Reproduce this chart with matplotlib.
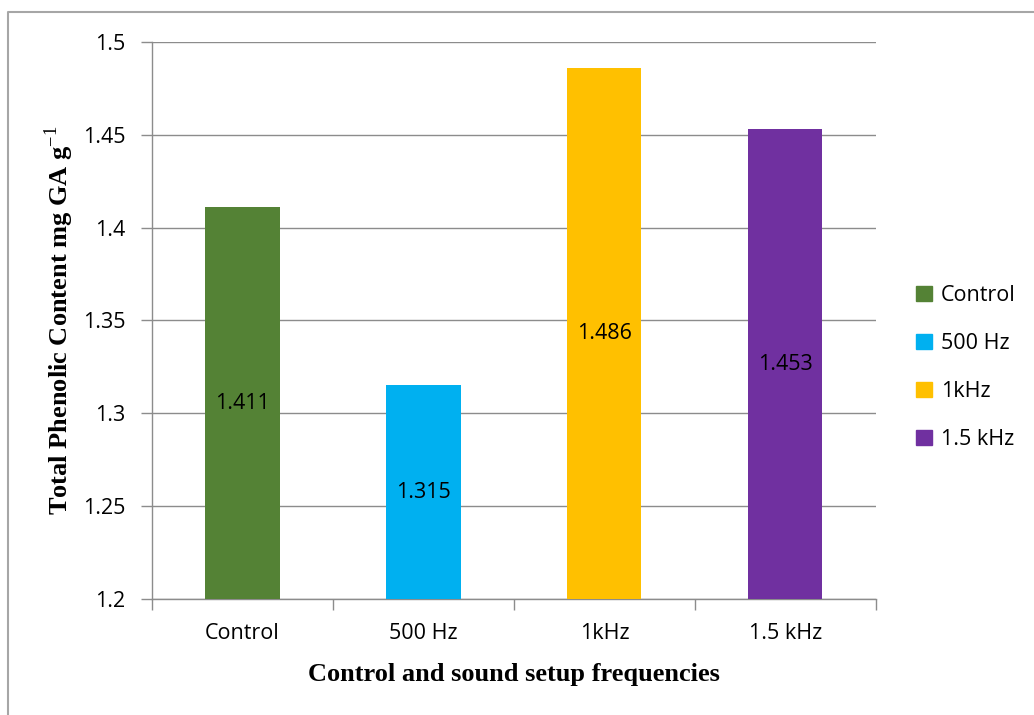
import matplotlib.pyplot as plt
from matplotlib.lines import Line2D

categories = ['Control', '500 Hz', '1kHz', '1.5 kHz']
values = [1.411, 1.315, 1.486, 1.453]
colors = ['#548235', '#00B0F0', '#FFC000', '#7030A0']

ymin, ymax = 1.2, 1.5
yticks = [1.2, 1.25, 1.3, 1.35, 1.4, 1.45, 1.5]

plt.rcParams['font.family'] = ['Open Sans', 'DejaVu Sans']
plt.rcParams['mathtext.fontset'] = 'custom'
plt.rcParams['mathtext.rm'] = 'Liberation Serif'
plt.rcParams['mathtext.bf'] = 'Liberation Serif:bold'

fs = 15.5

fig = plt.figure(figsize=(10.34, 7.15), dpi=100)
ax = fig.add_axes([0.147, 0.1622, 0.7, 0.7791])

x = range(len(categories))
ax.bar(x, values, width=0.41, color=colors, zorder=3)

# value labels sit in the middle of the visible part of each bar
for xi, v in zip(x, values):
    ax.text(xi, (v + ymin) / 2, f'{v:.3f}', ha='center', va='center',
            fontsize=fs, color='black', zorder=4)

ax.set_ylim(ymin, ymax)
ax.set_xlim(-0.5, len(categories) - 0.5)
ax.set_yticks(yticks)
ax.set_yticklabels([f'{t:g}' for t in yticks], fontsize=fs)
ax.yaxis.grid(True, color='#8c8c8c', linewidth=1, zorder=0)

ax.set_xticks(list(x))
ax.set_xticklabels(categories, fontsize=fs)
ax.tick_params(axis='x', length=0, pad=17)
ax.set_xticks([i - 0.5 for i in range(len(categories) + 1)], minor=True)
ax.tick_params(axis='x', which='minor', length=8, color='#8c8c8c', width=1)
ax.tick_params(axis='y', length=8, color='#8c8c8c', width=1, pad=11)

for side in ['top', 'right']:
    ax.spines[side].set_visible(False)
for side in ['left', 'bottom']:
    ax.spines[side].set_color('#8c8c8c')
    ax.spines[side].set_linewidth(1)

ax.set_xlabel('Control and sound setup frequencies', fontsize=19,
              fontweight='bold', family='Liberation Serif', labelpad=14)
ax.set_ylabel(r'Total Phenolic Content mg GA g$^{-1}$', fontsize=19,
              fontweight='bold', family='Liberation Serif', labelpad=5)

handles = [plt.Rectangle((0, 0), 1, 1, color=c) for c in colors]
fig.legend(handles, categories, loc='center left', bbox_to_anchor=(0.878, 0.486),
           frameon=False, fontsize=fs, handlelength=0.7, handleheight=0.7,
           handletextpad=0.45, labelspacing=1.25, borderaxespad=0)

# outer chart border (cut off at the right and bottom)
fig.add_artist(Line2D([8 / 1034, 8 / 1034, 1.0], [0.0, 1 - 12 / 715, 1 - 12 / 715],
                      transform=fig.transFigure, color='#a6a6a6', linewidth=1.5))

fig.savefig('out.png', dpi=100)
